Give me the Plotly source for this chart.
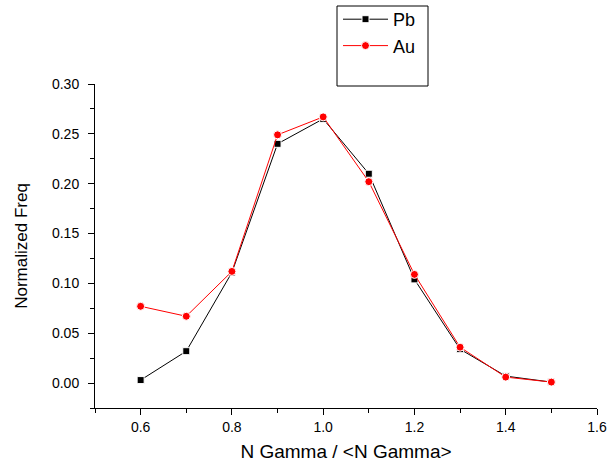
import plotly.graph_objects as go

x_vals = [0.6, 0.7, 0.8, 0.9, 1.0, 1.1, 1.2, 1.3, 1.4, 1.5]
pb_vals = [0.003, 0.032, 0.111, 0.240, 0.265, 0.210, 0.104, 0.034, 0.007, 0.001]
au_vals = [0.077, 0.067, 0.112, 0.249, 0.267, 0.202, 0.109, 0.036, 0.006, 0.001]
series_names = ["Pb", "Au"]

W, H = 610, 464
L, R, T, B = 95, 13, 84, 56
pw, ph = W - L - R, H - T - B

fig = go.Figure()
fig.add_trace(go.Scatter(
    x=x_vals, y=pb_vals, name=series_names[0], mode="lines+markers",
    line=dict(color="black", width=1),
    marker=dict(symbol="square", size=7, color="black", line=dict(color="white", width=1)),
))
fig.add_trace(go.Scatter(
    x=x_vals, y=au_vals, name=series_names[1], mode="lines+markers",
    line=dict(color="#ff0000", width=1),
    marker=dict(symbol="circle", size=8, color="#ff0000", line=dict(color="white", width=1)),
))

font_family = "Liberation Sans, Arial, sans-serif"

fig.update_layout(
    width=W, height=H,
    margin=dict(l=L, r=R, t=T, b=B, pad=0, autoexpand=False),
    paper_bgcolor="white", plot_bgcolor="white",
    font=dict(family=font_family, color="black"),
    showlegend=True,
    legend=dict(
        x=(338 - L) / pw, y=(H - B - 1) / ph,
        xanchor="left", yanchor="top",
        bgcolor="rgba(0,0,0,0)", borderwidth=0,
        font=dict(size=18, family=font_family),
        itemwidth=45, tracegroupgap=0,
    ),
    xaxis=dict(
        range=[0.5, 1.6], tick0=0.6, dtick=0.2, tickformat=".1f", automargin=True,
        showgrid=False, zeroline=False, showline=True, linecolor="black", linewidth=1,
        ticks="outside", ticklen=6, tickwidth=1, tickcolor="black",
        tickfont=dict(size=14),
        minor=dict(dtick=0.1, tick0=0.5, ticks="outside", ticklen=4, tickcolor="black", tickwidth=1, showgrid=False),
        title=dict(text="N Gamma / &lt;N Gamma&gt;", font=dict(size=19), standoff=10),
    ),
    yaxis=dict(
        range=[-0.025, 0.30], tick0=0, dtick=0.05, tickformat=".2f", automargin=True,
        showgrid=False, zeroline=False, showline=True, linecolor="black", linewidth=1,
        ticks="outside", ticklen=6, tickwidth=1, tickcolor="black",
        tickfont=dict(size=14), ticklabelstandoff=6,
        minor=dict(dtick=0.025, tick0=0, ticks="outside", ticklen=4, tickcolor="black", tickwidth=1, showgrid=False),
        title=dict(text="Normalized Freq", font=dict(size=17), standoff=20),
    ),
    shapes=[dict(
        type="rect", xref="paper", yref="paper",
        x0=(337 - L) / pw, x1=(428 - L) / pw,
        y0=(H - B - 86) / ph, y1=(H - B - 6) / ph,
        line=dict(color="black", width=1), fillcolor="rgba(0,0,0,0)",
    )],
)

fig.write_html(
    "out.html",
    config={"displayModeBar": False},
    post_script="document.body.style.margin='0';document.body.style.padding='0';document.body.style.overflow='hidden';",
)
